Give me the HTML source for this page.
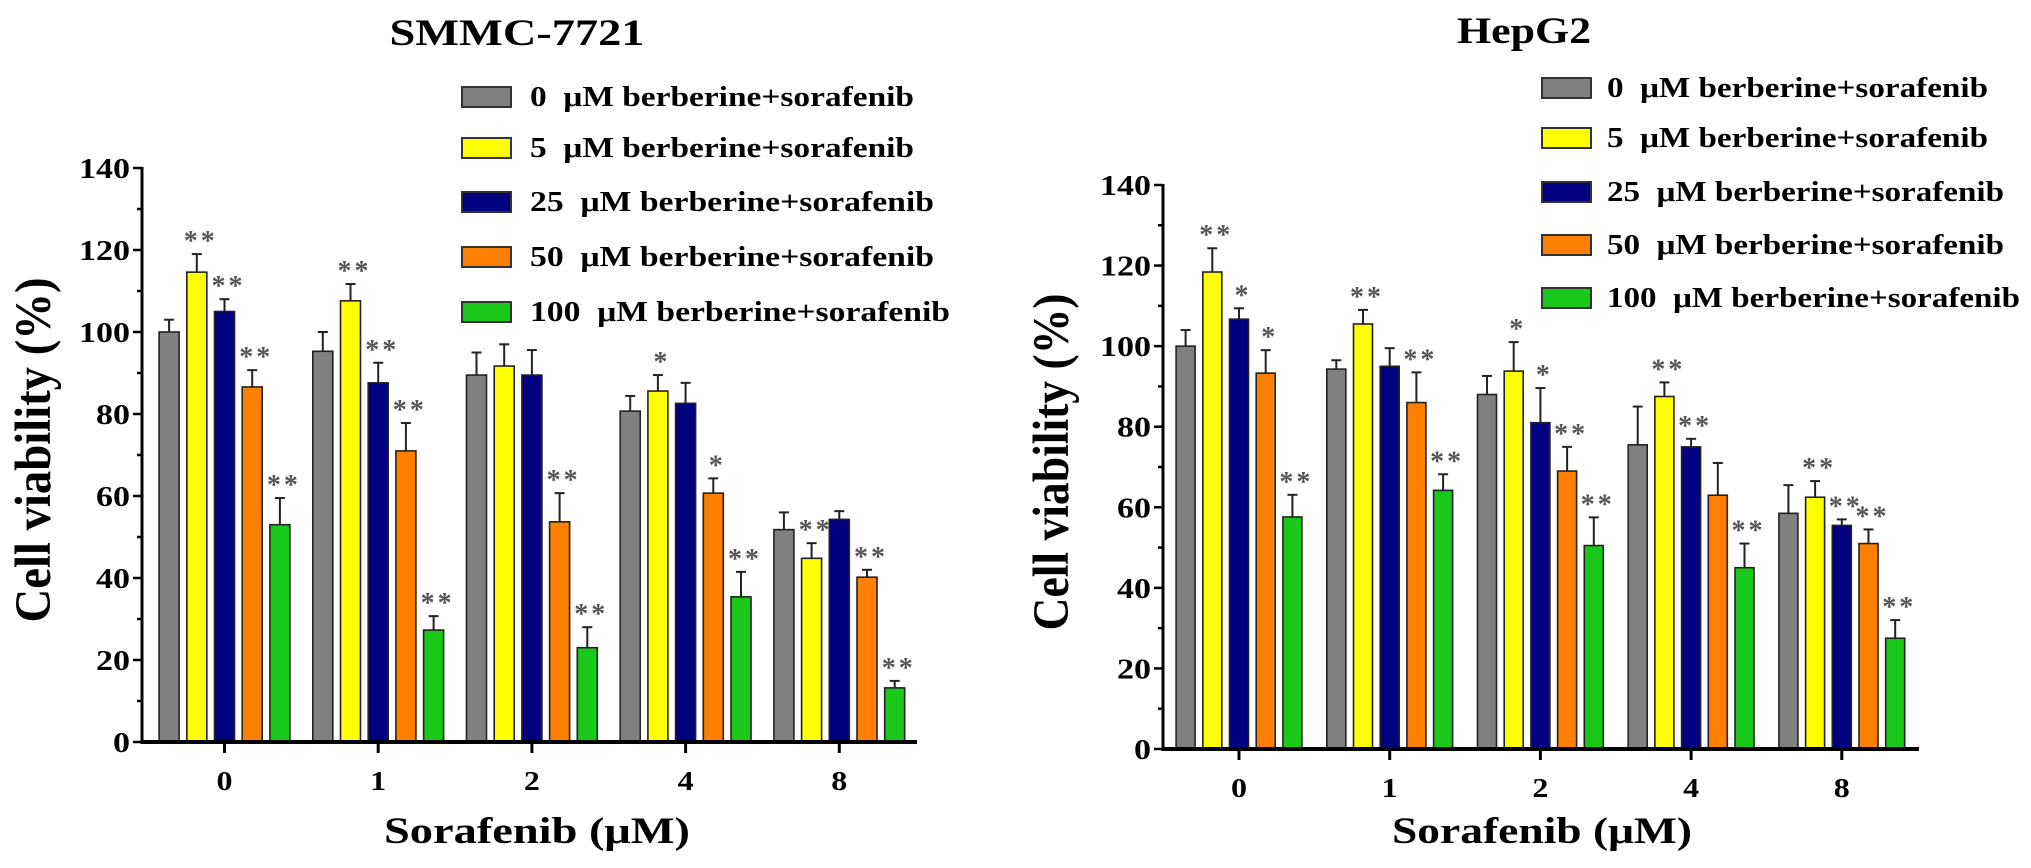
<!DOCTYPE html>
<html><head><meta charset="utf-8"><style>
html,body{margin:0;padding:0;background:#fff;}
svg{display:block;}
svg text{font-family:"Liberation Serif","Times New Roman",serif;font-weight:bold;white-space:pre;}
</style></head><body>
<svg id="fig" width="2031" height="868" viewBox="0 0 2031 868" xmlns="http://www.w3.org/2000/svg"></svg>
<script>
const categories = ["0","1","2","4","8"];
const seriesLabels = ["0  μM berberine+sorafenib","5  μM berberine+sorafenib","25  μM berberine+sorafenib","50  μM berberine+sorafenib","100  μM berberine+sorafenib"];
const seriesColors = ["#808080","#ffff00","#000080","#ff7f00","#19c819"];
const yTicks = [0,20,40,60,80,100,120,140];

const smmc0 = [100,95.3,89.5,80.7,51.8];
const smmc5 = [114.6,107.6,91.7,85.6,44.8];
const smmc25 = [105,87.6,89.5,82.6,54.3];
const smmc50 = [86.6,71,53.7,60.7,40.2];
const smmc100 = [53,27.3,23,35.4,13.2];
const smmcErr0 = [3,4.7,5.5,3.7,4.2];
const smmcErr5 = [4.4,4.1,5.3,3.9,3.7];
const smmcErr25 = [3,4.9,6.1,5,2];
const smmcErr50 = [4.1,6.8,7,3.6,1.8];
const smmcErr100 = [6.5,3.4,5,6.1,1.7];
const smmcStars0 = ["","","","",""];
const smmcStars5 = ["**","**","","*","**"];
const smmcStars25 = ["**","**","","",""];
const smmcStars50 = ["**","**","**","*","**"];
const smmcStars100 = ["**","**","**","**","**"];

const hep0 = [100,94.3,88,75.5,58.5];
const hep5 = [118.4,105.5,93.8,87.5,62.5];
const hep25 = [106.7,95,81,75,55.5];
const hep50 = [93.3,86,69,63,51];
const hep100 = [57.6,64.2,50.5,45,27.5];
const hepErr0 = [4,2.2,4.6,9.5,7];
const hepErr5 = [5.9,3.5,7.2,3.5,4];
const hepErr25 = [2.7,4.5,8.6,2,1.5];
const hepErr50 = [5.7,7.5,6,8,3.5];
const hepErr100 = [5.5,4,7,6,4.5];
const hepStars0 = ["","","","",""];
const hepStars5 = ["**","**","*","**","**"];
const hepStars25 = ["*","","*","**","**"];
const hepStars50 = ["*","**","**","","**"];
const hepStars100 = ["**","**","**","**","**"];

const NS = "http://www.w3.org/2000/svg";
const svg = document.getElementById('fig');
function mk(tag, attrs, parent){
  const e = document.createElementNS(NS, tag);
  for (const k in attrs) e.setAttribute(k, attrs[k]);
  (parent||svg).appendChild(e);
  return e;
}

function drawChart(cfg, means, errs, stars){
  const g = mk('g', {});
  
  
  const yScale = v => cfg.y0 - (v/140)*(cfg.y0 - cfg.y140);
  const xCenter = i => cfg.cx0 + i*cfg.pitch;

  const t = mk('text', {x:cfg.titleX, y:cfg.titleY, 'text-anchor':'middle', 'font-size':37, textLength:cfg.titleW, lengthAdjust:'spacingAndGlyphs'}, g);
  t.textContent = cfg.title;
  
  

  for (let s=0; s<5; s++){
    for (let i=0; i<categories.length; i++){
      const cx = xCenter(i) + (s-2)*cfg.barPitch;
      const v = means[s][i], e = errs[s][i];
      const yt = yScale(v), ye = yScale(v+e);
      const ln = mk('line', {x1:cx, x2:cx, y1:yt, y2:ye, stroke:'#222', 'stroke-width':2}, g);
      
      
      const cap = mk('line', {x1:cx-5, x2:cx+5, y1:ye, y2:ye, stroke:'#222', 'stroke-width':2}, g);
      
      
      const r = mk('rect', {x:cx-cfg.barW/2, y:yt, width:cfg.barW, height:cfg.y0-yt, fill:seriesColors[s], stroke:'#222', 'stroke-width':1.6}, g);
      
      
      if (stars[s][i]){
        const st = mk('text', {x:cx+4, y:ye-4, 'text-anchor':'middle', 'font-size':28, fill:'#555', 'letter-spacing':'3'}, g);
        st.textContent = stars[s][i];
        
        
      }
    }
  }

  const ya = mk('line', {x1:cfg.ax, x2:cfg.ax, y1:cfg.y140-1, y2:cfg.y0+1.5, stroke:'#000', 'stroke-width':3}, g);
  
  
  for (let v=0; v<=140; v+=10){
    const major = v%20===0;
    const tk = mk('line', {x1:cfg.ax-(major?9:5), x2:cfg.ax, y1:yScale(v), y2:yScale(v), stroke:'#000', 'stroke-width':2.5}, g);
    
    
  }
  yTicks.forEach(v => {
    const s = String(v);
    const tl = mk('text', {x:cfg.ax-12, y:yScale(v)+10, 'text-anchor':'end', 'font-size':29, textLength:s.length*17, lengthAdjust:'spacingAndGlyphs'}, g);
    tl.textContent = s;
    
    
  });

  const xa = mk('line', {x1:cfg.ax-1.5, x2:cfg.xEnd, y1:cfg.y0, y2:cfg.y0, stroke:'#000', 'stroke-width':4}, g);
  
  
  categories.forEach((c,i) => {
    const tk = mk('line', {x1:xCenter(i), x2:xCenter(i), y1:cfg.y0, y2:cfg.y0+11, stroke:'#000', 'stroke-width':3}, g);
    
    
    const tl = mk('text', {x:xCenter(i), y:cfg.tickLabelY, 'text-anchor':'middle', 'font-size':27, textLength:16, lengthAdjust:'spacingAndGlyphs'}, g);
    tl.textContent = c;
    
    
  });
  const xt = mk('text', {x:cfg.xTitleX, y:843, 'text-anchor':'middle', 'font-size':37, textLength:cfg.xTitleW, lengthAdjust:'spacingAndGlyphs'}, g);
  xt.textContent = 'Sorafenib (μM)';
  
  

  const yt = mk('text', {transform:'translate(' + cfg.yTitleX + ',' + cfg.yTitleY + ') scale(1.3,1) rotate(-90)', 'text-anchor':'middle', 'font-size':39, textLength:cfg.yTitleLen, lengthAdjust:'spacingAndGlyphs'}, g);
  yt.textContent = 'Cell viability (%)';
  
  

  const lg = mk('g', {}, g);
  
  
  seriesLabels.forEach((lab, s) => {
    const ry = cfg.legRows[s];
    const sw = mk('rect', {x:cfg.legX, y:ry-10, width:49, height:20, fill:seriesColors[s], stroke:'#333', 'stroke-width':2}, lg);
    
    
    const tx = mk('text', {x:cfg.legTextX, y:ry+9, 'font-size':28, textLength:cfg.legW[s], lengthAdjust:'spacingAndGlyphs'}, lg);
    tx.textContent = lab;
    
    
  });
}

drawChart({
  key:'smmc', title:'SMMC-7721', titleX:517, titleY:45, titleW:255,
  ax:142, y0:742, y140:168, xEnd:917, cx0:224.5, pitch:153.7, barW:20, barPitch:27.7,
  tickLabelY:790, xTitleX:537, xTitleW:306, yTitleX:50, yTitleY:450, yTitleLen:345,
  legX:462, legTextX:530, legRows:[97,148,202,257,312], legW:[384,384,404,404,420]
},[smmc0,smmc5,smmc25,smmc50,smmc100],[smmcErr0,smmcErr5,smmcErr25,smmcErr50,smmcErr100],[smmcStars0,smmcStars5,smmcStars25,smmcStars50,smmcStars100]);

drawChart({
  key:'hepg2', title:'HepG2', titleX:1524, titleY:43, titleW:134,
  ax:1163, y0:749, y140:185, xEnd:1919, cx0:1239, pitch:150.7, barW:19, barPitch:26.7,
  tickLabelY:797, xTitleX:1542, xTitleW:300, yTitleX:1068, yTitleY:462, yTitleLen:337,
  legX:1542, legTextX:1607, legRows:[88,138,192,245,298], legW:[381,381,397,397,413]
},[hep0,hep5,hep25,hep50,hep100],[hepErr0,hepErr5,hepErr25,hepErr50,hepErr100],[hepStars0,hepStars5,hepStars25,hepStars50,hepStars100]);
</script>
</body></html>
